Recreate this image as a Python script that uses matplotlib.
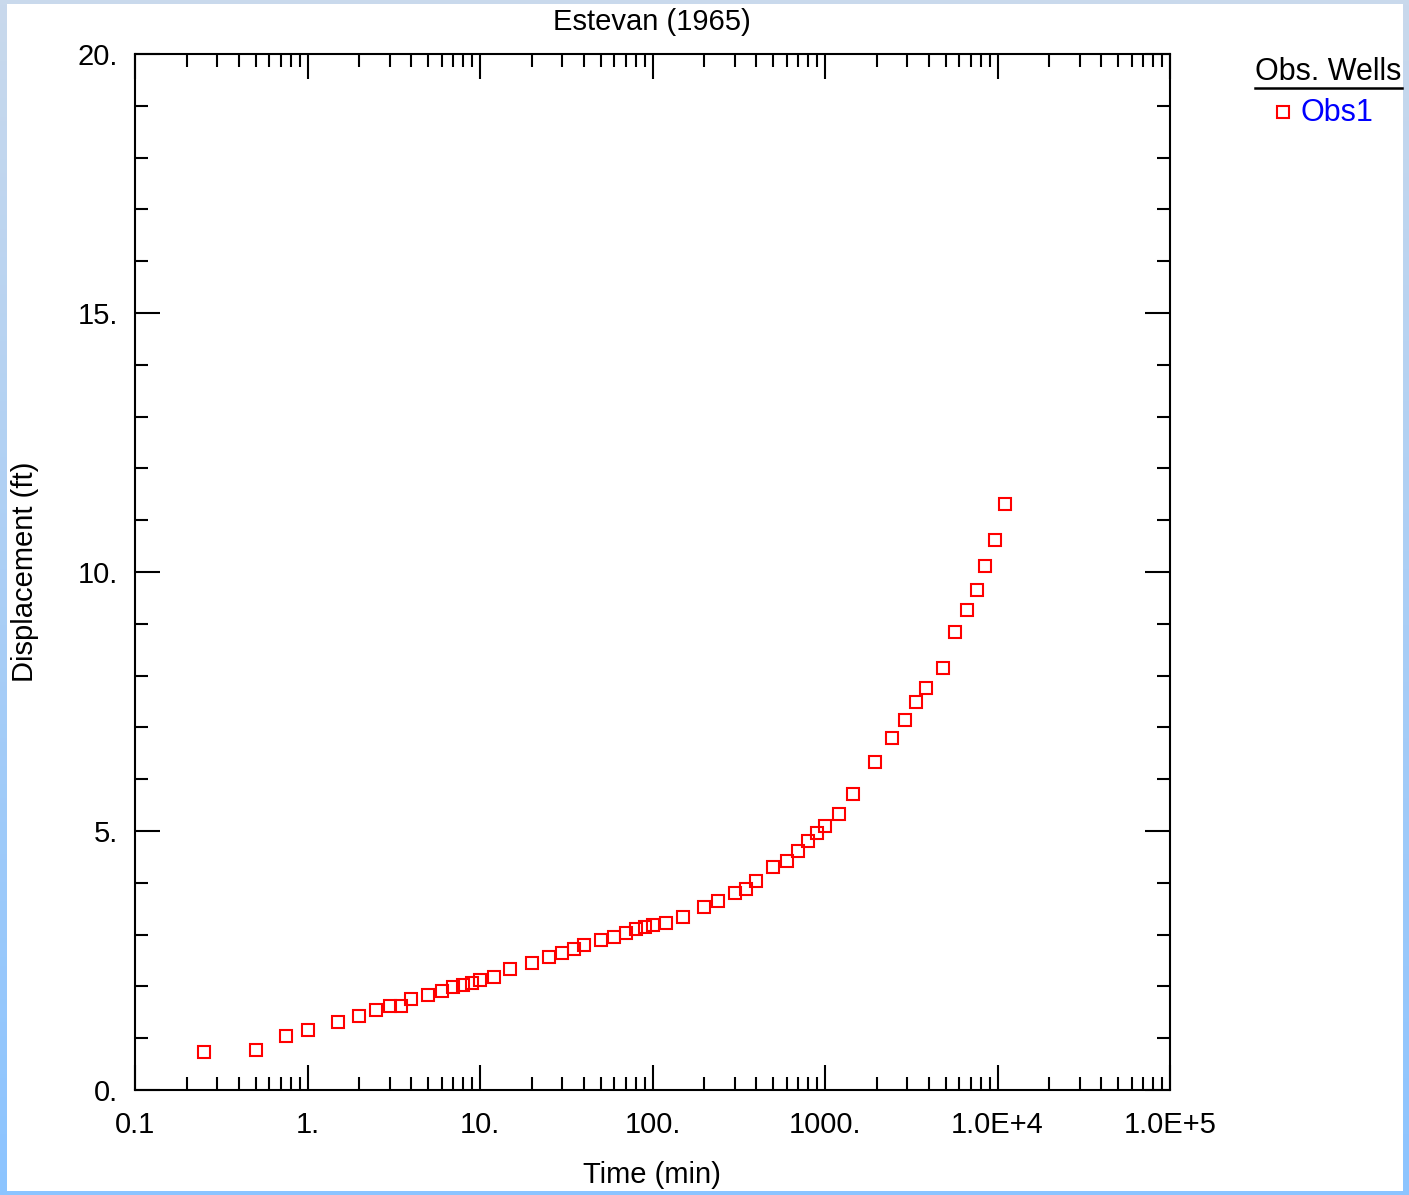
import numpy as np
import matplotlib
matplotlib.use('Agg')
import matplotlib.pyplot as plt
from matplotlib.ticker import FixedLocator, FixedFormatter, LogLocator, NullFormatter, MultipleLocator
from matplotlib.patches import Rectangle
from matplotlib.lines import Line2D

plt.rcParams.update({
    'font.family': ['Liberation Sans', 'DejaVu Sans'],
    'font.size': 21,
})

# observation well data (time in min, displacement in ft)
time_min = [0.25, 0.5, 0.75, 1.0, 1.5, 2, 2.5, 3, 3.5, 4, 5, 6, 7, 8, 9, 10,
            12, 15, 20, 25, 30, 35, 40, 50, 60, 70, 80, 90, 100, 120, 150,
            200, 240, 300, 350, 400, 500, 600, 700, 800, 900, 1000, 1200,
            1450, 1950, 2450, 2900, 3350, 3850, 4850, 5700, 6650, 7600,
            8450, 9700, 11000]
displacement = [0.73, 0.77, 1.04, 1.16, 1.31, 1.43, 1.54, 1.62, 1.62, 1.76,
                1.83, 1.91, 1.99, 2.03, 2.07, 2.12, 2.18, 2.34, 2.45, 2.57,
                2.64, 2.72, 2.80, 2.90, 2.95, 3.03, 3.11, 3.15, 3.18, 3.22,
                3.34, 3.53, 3.65, 3.80, 3.88, 4.03, 4.31, 4.42, 4.61, 4.81,
                4.96, 5.10, 5.33, 5.71, 6.33, 6.80, 7.14, 7.49, 7.76, 8.15,
                8.84, 9.27, 9.65, 10.12, 10.62, 11.31]

x_ticks = [0.1, 1, 10, 100, 1000, 1e4, 1e5]
x_ticklabels = ['0.1', '1.', '10.', '100.', '1000.', '1.0E+4', '1.0E+5']
y_ticks = [0, 5, 10, 15, 20]
y_ticklabels = ['0.', '5.', '10.', '15.', '20.']

W, H = 1409, 1195
fig = plt.figure(figsize=(W / 100, H / 100), dpi=100)

# blue frame background with white page
bg = fig.add_axes([0, 0, 1, 1], zorder=-10)
grad = np.linspace(0, 1, 256).reshape(-1, 1)
top_c = np.array([0xc9, 0xd9, 0xec]) / 255
bot_c = np.array([0x8c, 0xc4, 0xff]) / 255
img = top_c[None, None, :] * (1 - grad[:, :, None]) + bot_c[None, None, :] * grad[:, :, None]
bg.imshow(img, aspect='auto', extent=[0, 1, 0, 1], origin='upper')
bg.add_patch(Rectangle((7 / W, 4 / H), (1403 - 7) / W, (1191 - 4) / H,
                       facecolor='white', edgecolor='none'))
bg.set_xlim(0, 1)
bg.set_ylim(0, 1)
bg.axis('off')

ax = fig.add_axes([135 / W, 1 - 1090 / H, (1170 - 135) / W, (1090 - 54) / H])
ax.plot(time_min, displacement, linestyle='none', marker='s', markersize=8.3,
        markerfacecolor='none', markeredgecolor='#ff0000', markeredgewidth=1.5,
        clip_on=False)

ax.set_xscale('log')
ax.set_xlim(0.1, 1e5)
ax.set_ylim(0, 20)
ax.xaxis.set_major_locator(FixedLocator(x_ticks))
ax.xaxis.set_major_formatter(FixedFormatter(x_ticklabels))
ax.xaxis.set_minor_locator(LogLocator(base=10, subs=np.arange(2, 10), numticks=20))
ax.xaxis.set_minor_formatter(NullFormatter())
ax.yaxis.set_major_locator(FixedLocator(y_ticks))
ax.yaxis.set_major_formatter(FixedFormatter(y_ticklabels))
ax.yaxis.set_minor_locator(MultipleLocator(1))

for s in ax.spines.values():
    s.set_linewidth(1.5)
ax.tick_params(which='both', direction='in', top=True, right=True, width=1.5,
               labelsize=21, colors='black')
ax.tick_params(which='major', length=18)
ax.tick_params(which='minor', length=9.5)
ax.tick_params(axis='x', which='major', pad=15)
ax.tick_params(axis='y', which='major', pad=12)

fig.text(652 / W, 1 - 22 / H, 'Estevan (1965)', ha='center', va='center', fontsize=21)
fig.text(652 / W, 1 - 1175 / H, 'Time (min)', ha='center', va='center', fontsize=21)
fig.text(25 / W, 1 - 572 / H, 'Displacement (ft)', ha='center', va='center',
         rotation=90, fontsize=21)

# legend
fig.text(1328 / W, 1 - 72 / H, 'Obs. Wells', ha='center', va='center', fontsize=22)
fig.add_artist(Line2D([1255 / W, 1402 / W], [1 - 88 / H, 1 - 88 / H],
                      color='black', linewidth=1.8))
fig.add_artist(Line2D([1283 / W], [1 - 112 / H], marker='s', markersize=8.3,
                      markerfacecolor='none', markeredgecolor='#ff0000',
                      markeredgewidth=1.5, linestyle='none'))
fig.text(1301 / W, 1 - 113 / H, 'Obs1', ha='left', va='center', fontsize=22,
         color='#0000ff')

plt.savefig('out.png', dpi=100)
plt.close()
